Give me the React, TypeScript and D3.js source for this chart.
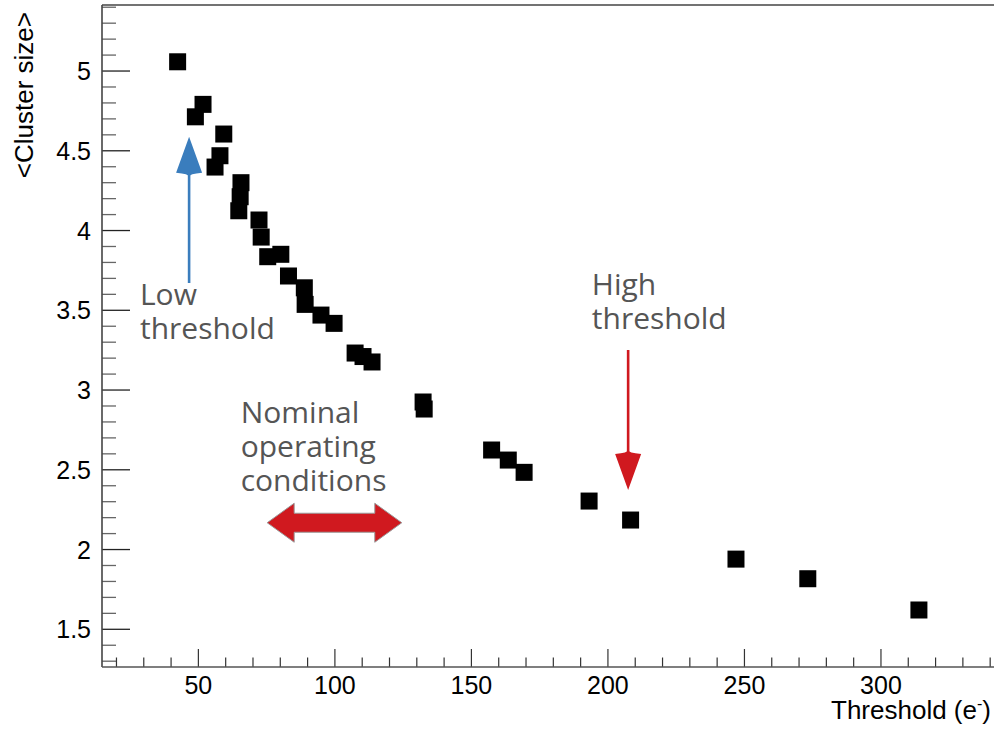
import React, { useEffect, useRef } from "react";
import * as d3 from "d3";

// threshold (e-) and mean cluster size
const thresholds = [
  42.4, 51.7, 48.9, 59.3, 57.9, 56.1, 65.6, 65.3, 64.8, 72.2, 73.0, 75.4, 80.2,
  83.0, 88.8, 89.1, 94.9, 99.7, 107.4, 110.3, 113.6, 132.3, 132.7, 157.4, 163.5,
  169.3, 193.1, 208.3, 246.9, 273.2, 313.9,
];
const clusterSize = [
  5.058, 4.791, 4.713, 4.605, 4.469, 4.398, 4.3, 4.212, 4.124, 4.066, 3.959,
  3.836, 3.851, 3.715, 3.641, 3.537, 3.47, 3.418, 3.232, 3.21, 3.176, 2.925,
  2.881, 2.624, 2.561, 2.484, 2.304, 2.185, 1.94, 1.817, 1.621,
];
const xTicks = [50, 100, 150, 200, 250, 300];
const yTicks = [1.5, 2, 2.5, 3, 3.5, 4, 4.5, 5];

// annotations, in data units
const lowArrow = { x: 46.6, y0: 3.671, y1: 4.588 };
const highArrow = { x: 207.4, y0: 3.251, y1: 2.373 };
const nominalRange = { x0: 75.2, x1: 124.5, y: 2.168 };
const lowLabel = { x: 28.6, y: 3.533, lines: ["Low", "threshold"] };
const highLabel = { x: 194.1, y: 3.596, lines: ["High", "threshold"] };
const nominalLabel = { x: 65.5, y: 2.793, lines: ["Nominal", "operating", "conditions"] };

export default function App() {
  const ref = useRef<SVGSVGElement>(null);

  useEffect(() => {
    const W = 994,
      H = 729;
    const left = 102,
      right = 994,
      top = 5,
      bottom = 667;
    const svg = d3.select(ref.current);
    svg.selectAll("*").remove();

    const x = d3.scaleLinear().domain([14.7, 341.4]).range([left, right]);
    const y = d3.scaleLinear().domain([1.2636, 5.414]).range([bottom, top]);

    const axisFont = "'Liberation Sans', Arial, Helvetica, sans-serif";
    const noteFont = "'Open Sans', 'Noto Sans', sans-serif";

    // minor ticks
    const g = svg.append("g");
    g.selectAll(".ymin")
      .data(d3.range(13, 55).map((v) => v / 10))
      .join("line")
      .attr("x1", left)
      .attr("x2", (d) => (yTicks.some((t) => Math.abs(t - d) < 1e-6) ? left + 28 : left + 14))
      .attr("y1", (d) => y(d))
      .attr("y2", (d) => y(d))
      .attr("stroke", (d) => (yTicks.some((t) => Math.abs(t - d) < 1e-6) ? "#222" : "#666"))
      .attr("stroke-width", 1.3);

    g.selectAll(".xmin")
      .data(d3.range(20, 350, 10))
      .join("line")
      .attr("x1", (d) => x(d))
      .attr("x2", (d) => x(d))
      .attr("y1", bottom)
      .attr("y2", (d) => (d % 50 === 0 ? bottom - 18 : bottom - 9.5))
      .attr("stroke", "#333")
      .attr("stroke-width", 1.2);

    // frame
    svg.append("line").attr("x1", left).attr("x2", right).attr("y1", top).attr("y2", top)
      .attr("stroke", "#444").attr("stroke-width", 1.6);
    svg.append("line").attr("x1", left).attr("x2", left).attr("y1", top).attr("y2", bottom)
      .attr("stroke", "#444").attr("stroke-width", 1.6);
    svg.append("line").attr("x1", left).attr("x2", right).attr("y1", bottom).attr("y2", bottom)
      .attr("stroke", "#555").attr("stroke-width", 1.6);

    // tick labels
    svg.selectAll(".ylab")
      .data(yTicks)
      .join("text")
      .attr("x", 91)
      .attr("y", (d) => y(d) + 9)
      .attr("text-anchor", "end")
      .attr("font-family", axisFont)
      .attr("font-size", 25)
      .attr("fill", "#000")
      .text((d) => String(d));

    svg.selectAll(".xlab")
      .data(xTicks)
      .join("text")
      .attr("x", (d) => x(d))
      .attr("y", 694)
      .attr("text-anchor", "middle")
      .attr("font-family", axisFont)
      .attr("font-size", 25)
      .attr("fill", "#000")
      .text((d) => String(d));

    // axis titles
    const xt = svg.append("text")
      .attr("x", 991)
      .attr("y", 719)
      .attr("text-anchor", "end")
      .attr("font-family", axisFont)
      .attr("font-size", 26)
      .attr("fill", "#000");
    xt.append("tspan").text("Threshold (e");
    xt.append("tspan").attr("dy", -10).attr("font-size", 16).text("-");
    xt.append("tspan").attr("dy", 10).text(")");

    svg.append("text")
      .attr("transform", "translate(33,12) rotate(-90)")
      .attr("text-anchor", "end")
      .attr("font-family", axisFont)
      .attr("font-size", 26)
      .attr("fill", "#000")
      .text("<Cluster size>");

    // points
    const pts = thresholds.map((t, i) => ({ t, c: clusterSize[i] }));
    const s = 17;
    svg.append("g")
      .selectAll("rect")
      .data(pts)
      .join("rect")
      .attr("x", (d) => x(d.t) - s / 2)
      .attr("y", (d) => y(d.c) - s / 2)
      .attr("width", s)
      .attr("height", s)
      .attr("fill", "#000");

    // arrows
    const arrowHead = (tx: number, ty: number, dir: number, len: number, half: number, notch: number) => {
      // dir: -1 points up, 1 points down
      const by = ty - dir * len;
      return `M${tx},${ty} L${tx + half},${by} Q${tx},${by + dir * notch * 0.3} ${tx},${by + dir * notch} Q${tx},${by + dir * notch * 0.3} ${tx - half},${by} Z`;
    };

    const blue = "#3a7dbd";
    svg.append("line")
      .attr("x1", x(lowArrow.x)).attr("x2", x(lowArrow.x))
      .attr("y1", y(lowArrow.y0)).attr("y2", y(lowArrow.y1) + 30)
      .attr("stroke", blue).attr("stroke-width", 2.6);
    svg.append("path")
      .attr("d", arrowHead(x(lowArrow.x), y(lowArrow.y1), -1, 36, 13, -4))
      .attr("fill", blue);

    const red = "#d0191f";
    svg.append("line")
      .attr("x1", x(highArrow.x)).attr("x2", x(highArrow.x))
      .attr("y1", y(highArrow.y0)).attr("y2", y(highArrow.y1) - 30)
      .attr("stroke", red).attr("stroke-width", 2.6);
    svg.append("path")
      .attr("d", arrowHead(x(highArrow.x), y(highArrow.y1), 1, 36, 13, -4))
      .attr("fill", red);

    const lx = x(nominalRange.x0),
      rx = x(nominalRange.x1),
      cy = y(nominalRange.y);
    const hl = 27,
      sh = 9.5,
      hh = 19.5;
    const dbl = [
      [lx, cy],
      [lx + hl, cy - hh],
      [lx + hl, cy - sh],
      [rx - hl, cy - sh],
      [rx - hl, cy - hh],
      [rx, cy],
      [rx - hl, cy + hh],
      [rx - hl, cy + sh],
      [lx + hl, cy + sh],
      [lx + hl, cy + hh],
    ] as [number, number][];
    svg.append("path")
      .attr("d", d3.line()(dbl) + "Z")
      .attr("fill", red)
      .attr("stroke", "#9a9a9a")
      .attr("stroke-width", 1);

    // annotation labels
    [lowLabel, highLabel, nominalLabel].forEach((lab) => {
      const t = svg.append("text")
        .attr("font-family", noteFont)
        .attr("font-size", 30)
        .attr("fill", "#555");
      lab.lines.forEach((ln, i) => {
        t.append("tspan")
          .attr("x", x(lab.x))
          .attr("y", y(lab.y) + i * 34)
          .text(ln);
      });
    });

    svg.attr("width", W).attr("height", H);
  }, []);

  return (
    <div style={{ position: "absolute", left: 0, top: 0, background: "#fff" }}>
      <svg ref={ref} width={994} height={729} style={{ display: "block" }} />
    </div>
  );
}
